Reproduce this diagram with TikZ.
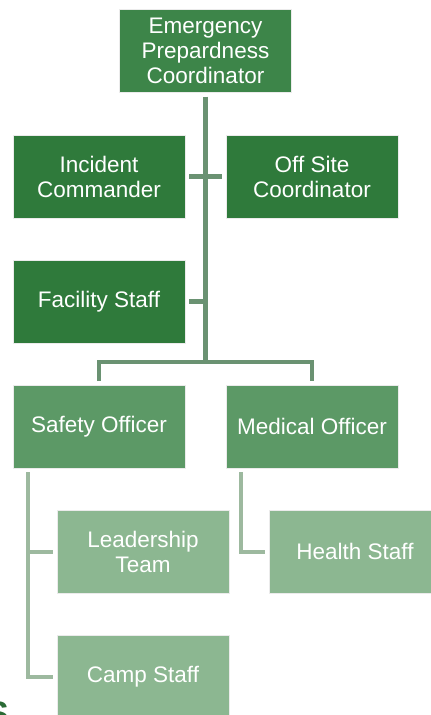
\documentclass[tikz,border=0pt]{standalone}
\usepackage{fontspec}
\setmainfont{Liberation Sans}
\definecolor{topgreen}{HTML}{3D8549}
\definecolor{midgreen}{HTML}{2F7A3B}
\definecolor{subgreen}{HTML}{5C9966}
\definecolor{leafgreen}{HTML}{8CB791}
\definecolor{linkdark}{HTML}{6A9272}
\definecolor{linklight}{HTML}{9DB99F}
\definecolor{titlegreen}{HTML}{2A6A35}
\tikzset{
    orgbox/.style={draw=white!92!black, line width=0.8pt, text=white,
        minimum width=172pt, minimum height=83pt, inner sep=2pt,
        outer sep=4pt, align=center, font=\fontsize{22.5}{25}\selectfont},
    boxtop/.style={orgbox, fill=topgreen},
    boxmid/.style={orgbox, fill=midgreen},
    boxsub/.style={orgbox, fill=subgreen},
    boxleaf/.style={orgbox, fill=leafgreen},
    linkupper/.style={draw=linkdark, line width=4.5pt},
    linklower/.style={draw=linklight, line width=4pt}
}
\begin{document}
\begin{tikzpicture}[x=1pt, y=-1pt]
    \useasboundingbox (0,0) rectangle (431,715);
    % 顶层
    \node[boxtop] (epc) at (205.5, 51) {Emergency\\Prepardness\\Coordinator};
    % 第二层
    \node[boxmid] (ic)  at (99, 176.5)  {Incident\\Commander};
    \node[boxmid] (osc) at (312, 176.5) {Off Site\\Coordinator};
    \node[boxmid] (fac) at (99, 301.5)  {Facility Staff};
    % 第三层
    \node[boxsub] (safety)  at (99, 426.5)  {Safety Officer};
    \node[boxsub] (medical) at (312, 426.5) {Medical Officer};
    % 底层
    \node[boxleaf] (lead)   at (143, 551.5) {Leadership\\Team};
    \node[boxleaf] (health) at (355, 551.5) {Health Staff};
    \node[boxleaf] (camp)   at (143, 676.5) {Camp Staff};
    \node[text=titlegreen, font=\bfseries\fontsize{34}{34}\selectfont,
        anchor=base east, inner sep=0pt] (tail) at (9, 725) {S};

    % 连线
    \coordinate (split) at (205.5, 362);
    \draw[linkupper] (epc.south) -- (split);
    \draw[linkupper] (ic.east) -- (osc.west);
    \draw[linkupper] (fac.east) -- (fac.east -| split);
    \draw[linkupper] (safety.north) |- (split) -| (medical.north);
    \draw[linklower] ([xshift=19pt]safety.south west) |- (lead.west);
    \draw[linklower] ([xshift=19pt]safety.south west) |- (camp.west);
    \draw[linklower] ([xshift=19pt]medical.south west) |- (health.west);
\end{tikzpicture}
\end{document}
